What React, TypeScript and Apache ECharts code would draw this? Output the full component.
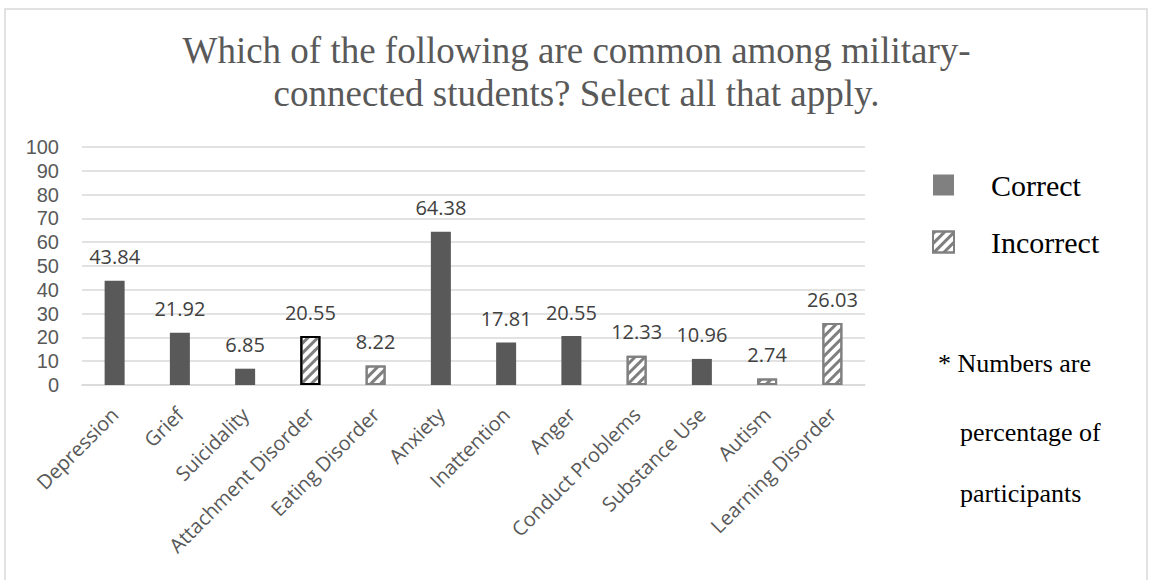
import React, { useEffect, useRef } from "react";
import * as echarts from "echarts";

const titleLines = [
  "Which of the following are common among military-",
  "connected students? Select all that apply.",
];
const categories = [
  "Depression",
  "Grief",
  "Suicidality",
  "Attachment Disorder",
  "Eating Disorder",
  "Anxiety",
  "Inattention",
  "Anger",
  "Conduct Problems",
  "Substance Use",
  "Autism",
  "Learning Disorder",
];
const correctValues: (number | null)[] = [43.84, 21.92, 6.85, null, null, 64.38, 17.81, 20.55, null, 10.96, null, null];
const incorrectValues: (number | null)[] = [null, null, null, 20.55, 8.22, null, null, null, 12.33, null, 2.74, 26.03];
const seriesNames = ["Correct", "Incorrect"];
const highlighted = "Attachment Disorder";
const noteLines = ["* Numbers are", "percentage of", "participants"];

export default function App() {
  const ref = useRef<HTMLDivElement>(null);
  useEffect(() => {
    document.body.style.margin = "0";
    const chart = echarts.init(ref.current!, undefined, { renderer: "svg" });
    const hatch = {
      symbol: "rect",
      symbolSize: 1,
      color: "#7f7f7f",
      dashArrayX: [1, 0],
      dashArrayY: [3, 4],
      rotation: -Math.PI / 4,
    };
    const labelStyle = {
      show: true,
      position: "top",
      distance: 14,
      fontFamily: "Open Sans",
      fontSize: 20,
      color: "#404040",
    };
    chart.setOption({
      animation: false,
      backgroundColor: "#fff",
      title: {
        text: titleLines.join("\n"),
        left: "center",
        top: 29,
        padding: 0,
        textStyle: {
          fontFamily: "Liberation Serif",
          fontSize: 37,
          lineHeight: 43,
          fontWeight: "normal",
          color: "#595959",
        },
      },
      legend: {
        orient: "vertical",
        left: 927,
        top: 165,
        itemWidth: 21,
        itemHeight: 21,
        itemGap: 27,
        textStyle: {
          fontFamily: "Liberation Serif",
          fontSize: 30,
          lineHeight: 30,
          color: "#000",
          padding: [0, 0, 0, 32],
        },
        data: [
          { name: seriesNames[0], icon: "rect", itemStyle: { color: "#808080" } },
          {
            name: seriesNames[1],
            icon: "rect",
            itemStyle: { color: "#fff", borderColor: "#808080", borderWidth: 2, decal: hatch },
          },
        ],
      },
      grid: { left: 82, right: 288, top: 147, bottom: 195, containLabel: false },
      xAxis: {
        type: "category",
        data: categories,
        axisLine: { show: true, lineStyle: { color: "#d9d9d9", width: 1.5 } },
        axisTick: { show: false },
        axisLabel: {
          fontFamily: "Open Sans",
          fontSize: 20,
          color: "#595959",
          rotate: 45,
          interval: 0,
          margin: 26,
        },
      },
      yAxis: {
        type: "value",
        min: 0,
        max: 100,
        interval: 10,
        axisLine: { show: false },
        axisTick: { show: false },
        splitLine: { lineStyle: { color: "#d9d9d9", width: 1.5 } },
        axisLabel: {
          fontFamily: "Liberation Sans",
          fontSize: 20,
          lineHeight: 20,
          color: "#595959",
          margin: 23,
        },
      },
      series: [
        {
          name: seriesNames[0],
          type: "bar",
          barWidth: 20,
          data: correctValues,
          itemStyle: { color: "#595959" },
          label: labelStyle,
        },
        {
          name: seriesNames[1],
          type: "bar",
          barWidth: 20,
          barGap: "-100%",
          data: incorrectValues.map((v, i) =>
            v == null
              ? null
              : categories[i] === highlighted
              ? { value: v, itemStyle: { borderColor: "#000" } }
              : v
          ),
          itemStyle: { color: "#fff", borderColor: "#808080", borderWidth: 2, decal: hatch },
          label: labelStyle,
        },
      ],
      graphic: [
        {
          type: "rect",
          shape: { x: 5, y: 9, width: 1142, height: 620 },
          style: { fill: "none", stroke: "#d9d9d9", lineWidth: 1.5 },
          silent: true,
        },
        {
          type: "text",
          x: 938,
          y: 363,
          style: { text: noteLines[0], font: "26px 'Liberation Serif'", fill: "#000", verticalAlign: "middle" },
        },
        {
          type: "text",
          x: 960,
          y: 432,
          style: { text: noteLines[1], font: "26px 'Liberation Serif'", fill: "#000", verticalAlign: "middle" },
        },
        {
          type: "text",
          x: 960,
          y: 493,
          style: { text: noteLines[2], font: "26px 'Liberation Serif'", fill: "#000", verticalAlign: "middle" },
        },
      ],
    });
    return () => chart.dispose();
  }, []);
  return <div ref={ref} style={{ width: 1153, height: 580 }} />;
}
